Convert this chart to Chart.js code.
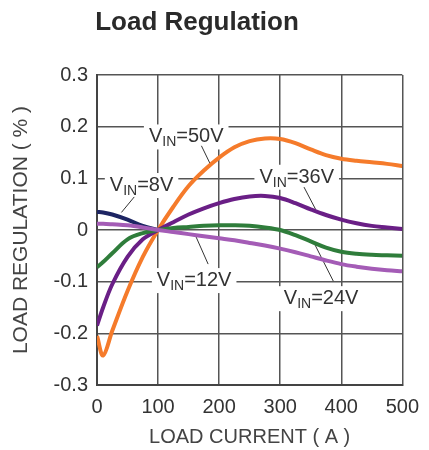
<!DOCTYPE html>
<html>
<head>
<meta charset="utf-8">
<script src="https://cdn.jsdelivr.net/npm/chart.js@4.4.1/dist/chart.umd.min.js"></script>
<style>
  html, body { margin: 0; padding: 0; background: #fff; }
</style>
</head>
<body>
<canvas id="graphCanvas" width="429" height="450"></canvas>
<script>
const loadCurrent = [0, 10, 25, 50, 75, 100, 125, 150, 175, 200, 225, 250, 275, 300, 325, 350, 375, 400, 425, 450, 475, 500];

// load regulation (%) per input voltage
const vin8  = [0.035, 0.034, 0.030, 0.020, 0.008, 0, null, null, null, null, null, null, null, null, null, null, null, null, null, null, null, null];
const vin12 = [0.012, 0.012, 0.011, 0.009, 0.005, 0, -0.004, -0.008, -0.012, -0.016, -0.020, -0.025, -0.030, -0.036, -0.043, -0.051, -0.059, -0.066, -0.071, -0.075, -0.078, -0.080];
const vin24 = [-0.072, -0.062, -0.045, -0.018, -0.006, 0, 0.004, 0.006, 0.008, 0.009, 0.009, 0.008, 0.005, 0, -0.010, -0.022, -0.034, -0.042, -0.046, -0.048, -0.049, -0.050];
const vin36 = [-0.185, -0.150, -0.105, -0.052, -0.018, 0, 0.015, 0.030, 0.042, 0.052, 0.060, 0.065, 0.066, 0.062, 0.052, 0.040, 0.029, 0.020, 0.013, 0.008, 0.005, 0.002];
const vin50 = [-0.205, -0.243, -0.195, -0.118, -0.052, 0, 0.045, 0.085, 0.115, 0.140, 0.160, 0.172, 0.177, 0.176, 0.168, 0.156, 0.145, 0.138, 0.134, 0.131, 0.128, 0.124];

const xTicks = [0, 100, 200, 300, 400, 500];
const yTicks = [-0.3, -0.2, -0.1, 0, 0.1, 0.2, 0.3];

// curve labels (data units): text anchor and leader line
const callouts = [
  { volts: '50V', x: 85,  y: 0.183,  from: [171, 0.163],  to: [187, 0.124] },
  { volts: '8V',  x: 21,  y: 0.089,  from: [61, 0.064],   to: [40, 0.034] },
  { volts: '36V', x: 266, y: 0.105,  from: [339, 0.083],  to: [358, 0.040] },
  { volts: '12V', x: 98,  y: -0.095, from: [182, -0.066], to: [161, -0.010] },
  { volts: '24V', x: 306, y: -0.130, from: [387, -0.099], to: [355, -0.024] }
];

const FONT = "'Liberation Sans', Arial, sans-serif";

function toPoints(values) {
  return loadCurrent.map((x, i) => ({ x: x, y: values[i] }));
}

function series(label, values, color) {
  return {
    label: label,
    data: toPoints(values),
    borderColor: color,
    borderWidth: 4,
    pointRadius: 0,
    fill: false,
    spanGaps: false,
    tension: 0.35
  };
}

const calloutPlugin = {
  id: 'callouts',
  beforeDatasetsDraw(chart) {
    const c = chart.ctx;
    const xs = chart.scales.x, ys = chart.scales.y;
    c.save();
    callouts.forEach(function (co) {
      const px = xs.getPixelForValue(co.x);
      const py = ys.getPixelForValue(co.y);
      c.font = '20px ' + FONT;
      const wV = c.measureText('V').width;
      const wRest = c.measureText('=' + co.volts).width;
      c.font = '14px ' + FONT;
      const wIn = c.measureText('IN').width;
      const w = wV + wIn + wRest;
      c.fillStyle = '#fff';
      c.fillRect(px - 5, py - 11, w + 10, 25);

      c.fillStyle = '#333';
      c.textBaseline = 'alphabetic';
      c.textAlign = 'left';
      c.font = '20px ' + FONT;
      c.fillText('V', px, py + 7);
      c.font = '14px ' + FONT;
      c.fillText('IN', px + wV, py + 11);
      c.font = '20px ' + FONT;
      c.fillText('=' + co.volts, px + wV + wIn, py + 7);

      c.strokeStyle = '#333';
      c.lineWidth = 1;
      c.beginPath();
      c.moveTo(xs.getPixelForValue(co.from[0]), ys.getPixelForValue(co.from[1]));
      c.lineTo(xs.getPixelForValue(co.to[0]), ys.getPixelForValue(co.to[1]));
      c.stroke();
    });
    c.restore();
  },
  afterDraw(chart) {
    const c = chart.ctx;
    c.save();
    c.font = 'bold 26px ' + FONT;
    c.fillStyle = '#2a2a2a';
    c.textAlign = 'center';
    c.textBaseline = 'middle';
    c.fillText('Load Regulation', 197, 23);
    c.restore();
  }
};

const ctx = document.getElementById('graphCanvas');

new Chart(ctx, {
  type: 'line',
  data: {
    datasets: [
      series('VIN=12V', vin12, '#a45cb6'),
      series('VIN=24V', vin24, '#2f7d3b'),
      series('VIN=8V', vin8, '#1d2563'),
      series('VIN=36V', vin36, '#6a1f86'),
      series('VIN=50V', vin50, '#f57b2b')
    ]
  },
  options: {
    responsive: false,
    animation: false,
    devicePixelRatio: 1,
    layout: {
      padding: { top: 75, right: 21, bottom: 0, left: 0 }
    },
    plugins: {
      legend: { display: false },
      tooltip: { enabled: false }
    },
    scales: {
      x: {
        type: 'linear',
        min: 0,
        max: 500,
        afterBuildTicks: function (scale) {
          scale.ticks = xTicks.map(v => ({ value: v }));
        },
        afterFit: function (scale) {
          scale.height = 65;
        },
        grid: { color: '#555', lineWidth: 1.5, drawTicks: false },
        border: { color: '#444', width: 2 },
        ticks: {
          padding: 10,
          color: '#333',
          font: { family: FONT, size: 20 }
        },
        title: {
          display: true,
          text: 'LOAD CURRENT ( A )',
          color: '#444',
          font: { family: FONT, size: 20 },
          padding: { top: 0, bottom: 1 }
        }
      },
      y: {
        min: -0.3,
        max: 0.3,
        afterBuildTicks: function (scale) {
          scale.ticks = yTicks.map(v => ({ value: v }));
        },
        afterFit: function (scale) {
          scale.width = 97;
        },
        grid: { color: '#555', lineWidth: 1.5, drawTicks: false },
        border: { color: '#444', width: 2 },
        ticks: {
          padding: 9,
          color: '#333',
          font: { family: FONT, size: 20 },
          callback: function (value) {
            return String(Math.round(value * 10) / 10);
          }
        },
        title: {
          display: true,
          text: 'LOAD REGULATION ( % )',
          color: '#444',
          font: { family: FONT, size: 21 },
          padding: { top: 9, bottom: 0 }
        }
      }
    }
  },
  plugins: [calloutPlugin]
});
</script>
</body>
</html>
